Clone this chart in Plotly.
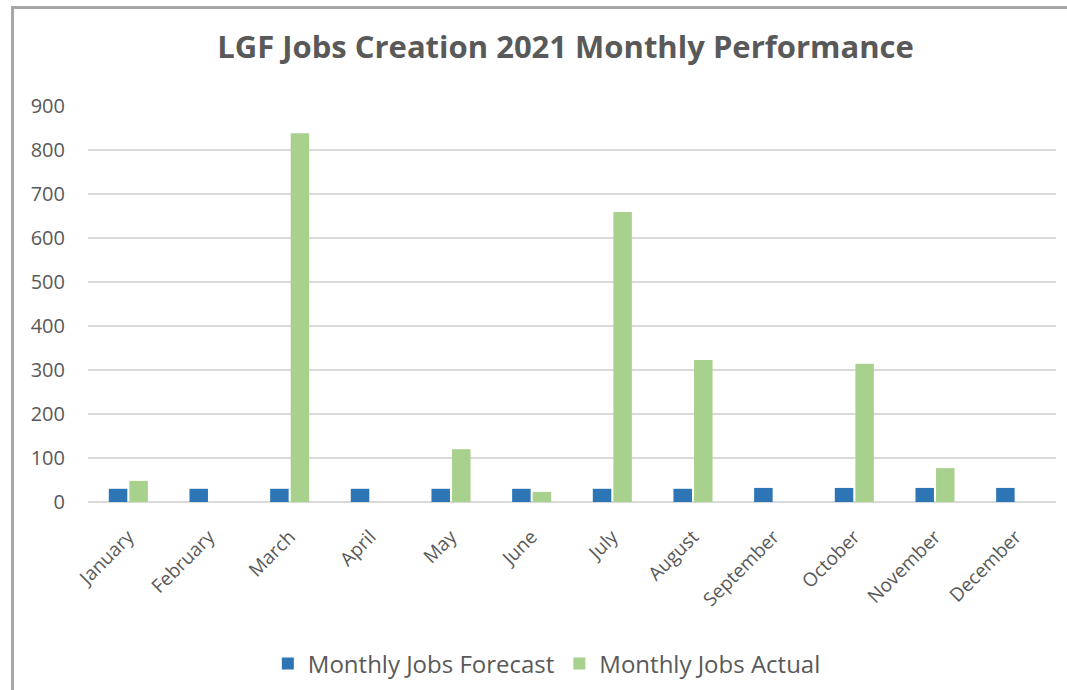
import plotly.graph_objects as go

MONTHS = ["January", "February", "March", "April", "May", "June",
          "July", "August", "September", "October", "November", "December"]
FORECAST = [30, 30, 30, 30, 30, 30, 30, 30, 32, 32, 32, 32]
ACTUAL = [48, None, 838, None, 120, 23, 659, 323, None, 314, 77, None]

BLUE = "#2E75B6"
GREEN = "#A9D18E"
TEXT_GREY = "#595959"
FONT = "'Open Sans', Lato, sans-serif"

fig = go.Figure()
fig.add_trace(go.Bar(x=MONTHS, y=FORECAST, name="Monthly Jobs Forecast",
                     marker=dict(color=BLUE, line=dict(width=0))))
fig.add_trace(go.Bar(x=MONTHS, y=ACTUAL, name="Monthly Jobs Actual",
                     marker=dict(color=GREEN, line=dict(width=0))))

fig.update_layout(
    width=1067,
    height=690,
    paper_bgcolor="white",
    plot_bgcolor="white",
    margin=dict(l=88, r=11, t=106, b=188, autoexpand=False),
    barmode="group",
    bargap=0.49,
    bargroupgap=0.1,
    font=dict(family=FONT, color=TEXT_GREY),
    title=dict(
        text="<b>LGF Jobs Creation 2021 Monthly Performance</b>",
        x=0.53, xanchor="center", y=0.932, yanchor="middle",
        font=dict(size=31, color=TEXT_GREY, family=FONT),
    ),
    legend=dict(
        orientation="h", x=0.474, xanchor="center", y=-0.409, yanchor="middle",
        font=dict(size=24, color=TEXT_GREY), itemwidth=30,
    ),
    showlegend=True,
)
fig.update_yaxes(
    range=[0, 900], dtick=100, showgrid=True, gridcolor="#D9D9D9", gridwidth=1.5,
    zeroline=True, zerolinecolor="#D9D9D9", zerolinewidth=2,
    tickfont=dict(size=20, color=TEXT_GREY), ticks="", ticklabelstandoff=22,
    automargin=False,
)
fig.update_xaxes(
    tickangle=-45, tickfont=dict(size=19, color=TEXT_GREY), showgrid=False,
    ticks="", showline=False, automargin=False, ticklabelstandoff=19,
)
# outer frame of the chart (cropped on right and bottom)
fig.add_shape(type="rect", xref="paper", yref="paper",
              x0=-0.078, x1=1.2, y0=-0.8, y1=1.2487,
              line=dict(color="#A6A6A6", width=3), layer="below")

fig.write_html("out.html", config={"displayModeBar": False},
               post_script="document.body.style.margin='0';")
